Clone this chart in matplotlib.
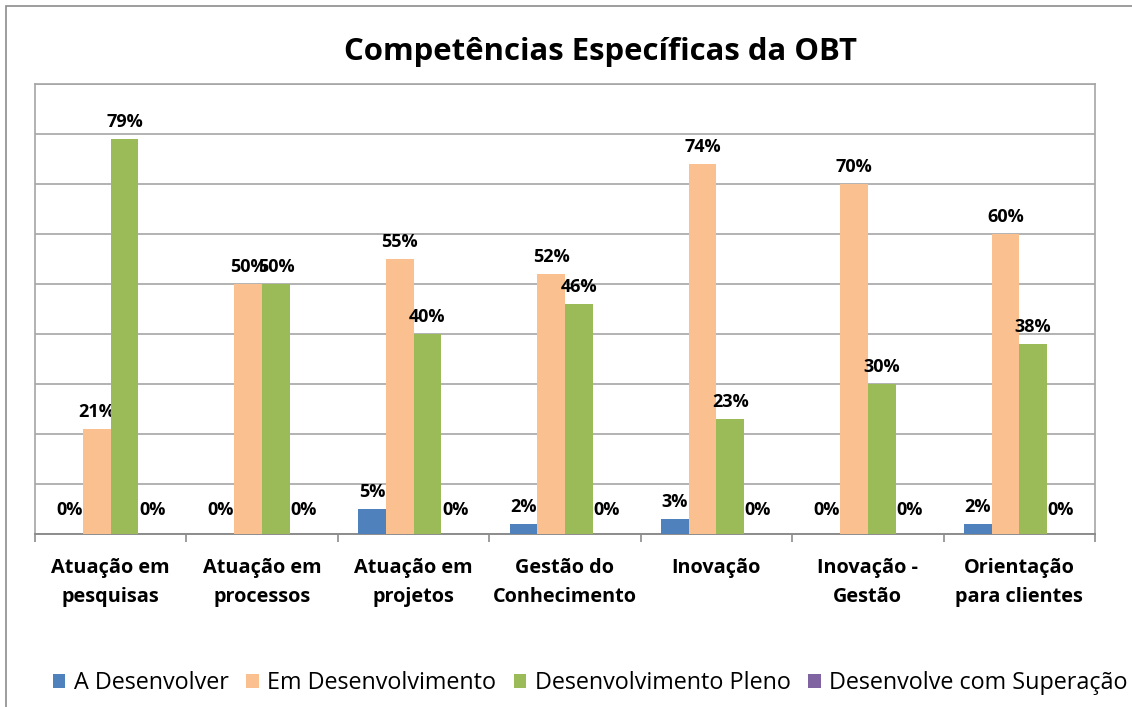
import numpy as np
import matplotlib.pyplot as plt
from matplotlib.patches import Rectangle

# categories and percentages per evaluation level
categorias = ["Atuação em\npesquisas", "Atuação em\nprocessos", "Atuação em\nprojetos",
              "Gestão do\nConhecimento", "Inovação", "Inovação -\nGestão",
              "Orientação\npara clientes"]
a_desenvolver = [0, 0, 5, 2, 3, 0, 2]
em_desenvolvimento = [21, 50, 55, 52, 74, 70, 60]
desenv_pleno = [79, 50, 40, 46, 23, 30, 38]
desenv_superacao = [0, 0, 0, 0, 0, 0, 0]

series = [a_desenvolver, em_desenvolvimento, desenv_pleno, desenv_superacao]
nomes = ["A Desenvolver", "Em Desenvolvimento", "Desenvolvimento Pleno",
         "Desenvolve com Superação"]
cores = ["#4F81BD", "#FAC090", "#9BBB59", "#8064A2"]

plt.rcParams['font.family'] = ['Open Sans', 'DejaVu Sans']

fig = plt.figure(figsize=(11.32, 7.07), dpi=100)
ax = fig.add_axes([35/1132, 1 - 534/707, (1095-35)/1132, (534-84)/707])

# outer chart frame
fig.patches.append(Rectangle((6/1132, -0.05), 1.2, 1 - 6/707 + 0.05,
                             transform=fig.transFigure, fill=False,
                             edgecolor="#8c8c8c", linewidth=1.2))

x = np.arange(len(categorias))
w = 0.183
for i, (vals, nome, cor) in enumerate(zip(series, nomes, cores)):
    pos = x + (i - 1.5) * w
    bars = ax.bar(pos, vals, w, color=cor, label=nome, zorder=3)
    for p, v in zip(pos, vals):
        off = 10.5 if v == 0 else 6
        ax.annotate(f"{v}%", (p, v), xytext=(0, off), textcoords="offset points",
                    ha="center", va="bottom", fontsize=13, fontweight="bold")

ax.set_xlim(-0.5, len(categorias) - 0.5)
ax.set_ylim(0, 90)
ax.set_yticks(np.arange(0, 91, 10))
ax.set_yticklabels([])
ax.tick_params(axis="y", length=0)
ax.yaxis.grid(True, color="#a6a6a6", linewidth=1.2, zorder=0)

ax.set_xticks(x)
ax.set_xticklabels(categorias, fontsize=14.3, fontweight="bold", linespacing=1.55)
ax.tick_params(axis="x", which="major", length=0, pad=17.5)
ax.set_xticks(np.arange(-0.5, len(categorias)), minor=True)
ax.tick_params(axis="x", which="minor", length=6, width=1.2, color="#8c8c8c")

for s in ["top", "right", "left"]:
    ax.spines[s].set_color("#a6a6a6")
    ax.spines[s].set_linewidth(1.2)
ax.spines["bottom"].set_color("#8c8c8c")
ax.spines["bottom"].set_linewidth(1.4)

fig.text(601/1132, 1 - 52/707, "Competências Específicas da OBT",
         ha="center", va="center", fontsize=22.4, fontweight="bold")

fig.legend(loc="center", bbox_to_anchor=(590/1132, 1 - 683/707), ncol=4,
           frameon=False, fontsize=16.8, handlelength=0.55, handleheight=0.55,
           handletextpad=0.35, columnspacing=0.75)

fig.savefig("out.png", dpi=100)
